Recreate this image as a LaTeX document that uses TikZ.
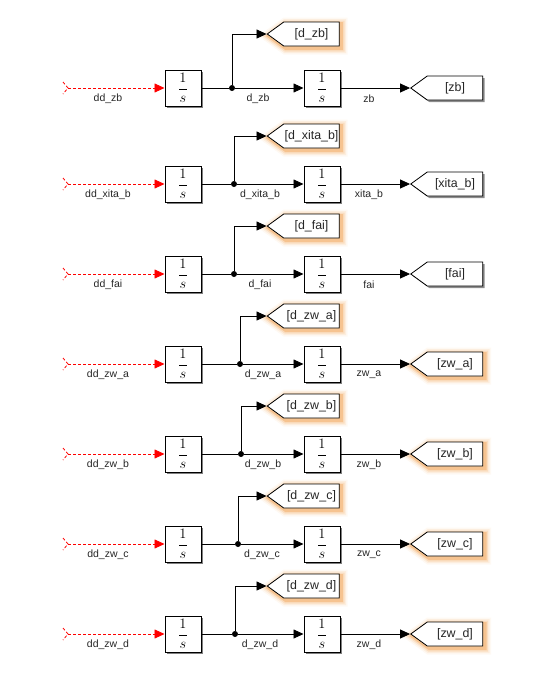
\documentclass[tikz,border=0pt]{standalone}
\usepackage{amsmath}
\usepackage{fontspec}
\setmainfont{Liberation Sans}
\usetikzlibrary{arrows.meta,positioning,calc,shapes.symbols,shadows}

\begin{document}
\begin{tikzpicture}[
  x=1pt, y=-1pt,
  font=\fontsize{10.5}{12}\selectfont,
  >={Triangle[length=10pt,width=9pt]},
  integ/.style={
    draw, line width=1pt, fill=white, minimum size=36pt, inner sep=0pt,
    font=\fontsize{15}{18}\selectfont,
    drop shadow={shadow xshift=2pt, shadow yshift=-2pt, fill=black, opacity=0.5}
  },
  gototag/.style={
    signal, signal to=west, signal pointer angle=72, draw, line width=0.8pt,
    fill=white, minimum width=72pt, minimum height=24pt, inner sep=0pt,
    text width=54pt, text height=8.5pt, text depth=2.5pt, align=center,
    font=\fontsize{12.4}{14}\selectfont, text=black!85
  },
  gotoplain/.style={gototag,
    drop shadow={shadow xshift=2pt, shadow yshift=-2pt, fill=black, opacity=0.45}
  },
  gotoglow/.style={gototag,
    preaction={draw=orange!70!brown, line width=13pt, opacity=0.05, transform canvas={shift={(2pt,-2pt)}}},
    preaction={draw=orange!70!brown, line width=10pt, opacity=0.09, transform canvas={shift={(2pt,-2pt)}}},
    preaction={draw=orange!70!brown, line width=7pt, opacity=0.15, transform canvas={shift={(2pt,-2pt)}}},
    preaction={draw=orange!70!brown, line width=4pt, opacity=0.28, transform canvas={shift={(2pt,-2pt)}}}
  },
  dot/.style={circle, fill=black, minimum size=6pt, inner sep=0pt},
  sig/.style={inner sep=0pt, text=black!85},
  wire/.style={line width=0.8pt},
  arr/.style={->, wire},
  redarr/.style={->, red, densely dashed, wire},
  stub/.style={red, densely dashed, wire}
]
  \useasboundingbox (0,0) rectangle (539,675);

  % zb
  \coordinate (srcA) at (68,88);
  \node[integ] (intA) at (183,88) {$\dfrac{1}{s}$};
  \node[dot] (jctA) at (232,88) {};
  \node[integ, right=102pt of intA] (outA) {$\dfrac{1}{s}$};
  \node[gotoglow] (upA) at (311.5,34) {[d\_zb]};
  \node[gotoplain] (gotoA) at (455,88) {[zb]};
  \node[sig] (l1A) at (108,98.5) {dd\_zb};
  \node[sig] (l2A) at (258,98.5) {d\_zb};
  \node[sig] (l3A) at (369,98.5) {zb};
  \draw[stub] ($(srcA)+(-5,-6)$) -- (srcA) -- ($(srcA)+(-5,6)$);
  \draw[redarr] (srcA) -- (intA);
  \draw[wire] (intA) -- (jctA);
  \draw[arr] (jctA) -- (outA);
  \draw[arr] (jctA) |- (upA);
  \draw[arr] (outA) -- (outA -| gotoA.west);

  % xita_b
  \coordinate (srcB) at (68,184);
  \node[integ] (intB) at (183,184) {$\dfrac{1}{s}$};
  \node[dot] (jctB) at (234,184) {};
  \node[integ, right=102pt of intB] (outB) {$\dfrac{1}{s}$};
  \node[gotoglow] (upB) at (311.5,136) {[d\_xita\_b]};
  \node[gotoplain] (gotoB) at (455,184) {[xita\_b]};
  \node[sig] (l1B) at (108,194.5) {dd\_xita\_b};
  \node[sig] (l2B) at (260,194.5) {d\_xita\_b};
  \node[sig] (l3B) at (369,194.5) {xita\_b};
  \draw[stub] ($(srcB)+(-5,-6)$) -- (srcB) -- ($(srcB)+(-5,6)$);
  \draw[redarr] (srcB) -- (intB);
  \draw[wire] (intB) -- (jctB);
  \draw[arr] (jctB) -- (outB);
  \draw[arr] (jctB) |- (upB);
  \draw[arr] (outB) -- (outB -| gotoB.west);

  % fai
  \coordinate (srcC) at (68,274);
  \node[integ] (intC) at (183,274) {$\dfrac{1}{s}$};
  \node[dot] (jctC) at (234,274) {};
  \node[integ, right=102pt of intC] (outC) {$\dfrac{1}{s}$};
  \node[gotoglow] (upC) at (311.5,226) {[d\_fai]};
  \node[gotoplain] (gotoC) at (455,274) {[fai]};
  \node[sig] (l1C) at (108,284.5) {dd\_fai};
  \node[sig] (l2C) at (260,284.5) {d\_fai};
  \node[sig] (l3C) at (369,284.5) {fai};
  \draw[stub] ($(srcC)+(-5,-6)$) -- (srcC) -- ($(srcC)+(-5,6)$);
  \draw[redarr] (srcC) -- (intC);
  \draw[wire] (intC) -- (jctC);
  \draw[arr] (jctC) -- (outC);
  \draw[arr] (jctC) |- (upC);
  \draw[arr] (outC) -- (outC -| gotoC.west);

  % zw_a
  \coordinate (srcD) at (68,364);
  \node[integ] (intD) at (183,364) {$\dfrac{1}{s}$};
  \node[dot] (jctD) at (240,364) {};
  \node[integ, right=102pt of intD] (outD) {$\dfrac{1}{s}$};
  \node[gotoglow] (upD) at (311.5,316) {[d\_zw\_a]};
  \node[gotoglow] (gotoD) at (455,364) {[zw\_a]};
  \node[sig] (l1D) at (108,374.5) {dd\_zw\_a};
  \node[sig] (l2D) at (263,374.5) {d\_zw\_a};
  \node[sig] (l3D) at (369,374.5) {zw\_a};
  \draw[stub] ($(srcD)+(-5,-6)$) -- (srcD) -- ($(srcD)+(-5,6)$);
  \draw[redarr] (srcD) -- (intD);
  \draw[wire] (intD) -- (jctD);
  \draw[arr] (jctD) -- (outD);
  \draw[arr] (jctD) |- (upD);
  \draw[arr] (outD) -- (outD -| gotoD.west);

  % zw_b
  \coordinate (srcE) at (68,454);
  \node[integ] (intE) at (183,454) {$\dfrac{1}{s}$};
  \node[dot] (jctE) at (241,454) {};
  \node[integ, right=102pt of intE] (outE) {$\dfrac{1}{s}$};
  \node[gotoglow] (upE) at (311.5,406) {[d\_zw\_b]};
  \node[gotoglow] (gotoE) at (455,454) {[zw\_b]};
  \node[sig] (l1E) at (108,464.5) {dd\_zw\_b};
  \node[sig] (l2E) at (263,464.5) {d\_zw\_b};
  \node[sig] (l3E) at (369,464.5) {zw\_b};
  \draw[stub] ($(srcE)+(-5,-6)$) -- (srcE) -- ($(srcE)+(-5,6)$);
  \draw[redarr] (srcE) -- (intE);
  \draw[wire] (intE) -- (jctE);
  \draw[arr] (jctE) -- (outE);
  \draw[arr] (jctE) |- (upE);
  \draw[arr] (outE) -- (outE -| gotoE.west);

  % zw_c
  \coordinate (srcF) at (68,544);
  \node[integ] (intF) at (183,544) {$\dfrac{1}{s}$};
  \node[dot] (jctF) at (238,544) {};
  \node[integ, right=102pt of intF] (outF) {$\dfrac{1}{s}$};
  \node[gotoglow] (upF) at (311.5,496) {[d\_zw\_c]};
  \node[gotoglow] (gotoF) at (455,544) {[zw\_c]};
  \node[sig] (l1F) at (108,554.5) {dd\_zw\_c};
  \node[sig] (l2F) at (262,554.5) {d\_zw\_c};
  \node[sig] (l3F) at (369,554.5) {zw\_c};
  \draw[stub] ($(srcF)+(-5,-6)$) -- (srcF) -- ($(srcF)+(-5,6)$);
  \draw[redarr] (srcF) -- (intF);
  \draw[wire] (intF) -- (jctF);
  \draw[arr] (jctF) -- (outF);
  \draw[arr] (jctF) |- (upF);
  \draw[arr] (outF) -- (outF -| gotoF.west);

  % zw_d
  \coordinate (srcG) at (68,634);
  \node[integ] (intG) at (183,634) {$\dfrac{1}{s}$};
  \node[dot] (jctG) at (235,634) {};
  \node[integ, right=102pt of intG] (outG) {$\dfrac{1}{s}$};
  \node[gotoglow] (upG) at (311.5,586) {[d\_zw\_d]};
  \node[gotoglow] (gotoG) at (455,634) {[zw\_d]};
  \node[sig] (l1G) at (108,644.5) {dd\_zw\_d};
  \node[sig] (l2G) at (260,644.5) {d\_zw\_d};
  \node[sig] (l3G) at (369,644.5) {zw\_d};
  \draw[stub] ($(srcG)+(-5,-6)$) -- (srcG) -- ($(srcG)+(-5,6)$);
  \draw[redarr] (srcG) -- (intG);
  \draw[wire] (intG) -- (jctG);
  \draw[arr] (jctG) -- (outG);
  \draw[arr] (jctG) |- (upG);
  \draw[arr] (outG) -- (outG -| gotoG.west);

\end{tikzpicture}
\end{document}
